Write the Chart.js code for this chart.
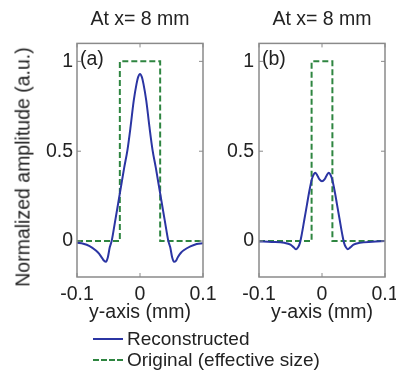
<!DOCTYPE html>
<html>
<head>
<meta charset="utf-8">
<script src="https://cdn.jsdelivr.net/npm/chart.js@4"></script>
<style>
  body { margin: 0; background: #fff; }
  #wrap { position: relative; width: 396px; height: 377px; overflow: hidden; font-family: "Liberation Sans", Arial, sans-serif; color: #222; }
  canvas { position: absolute; top: 0; }
  #ylab { position: absolute; left: 23px; top: 167px; transform: translate(-50%, -50%) rotate(-90deg); white-space: nowrap; font-size: 19.5px; }
  #legend { position: absolute; left: 93px; top: 328px; font-size: 19px; line-height: 21px; }
  .row { display: flex; align-items: center; white-space: nowrap; }
  .swatch { width: 30px; height: 0; margin-right: 4px; }
</style>
</head>
<body>
<div id="wrap">
  <canvas id="panelA" width="230" height="330" style="left:0"></canvas>
  <canvas id="panelB" width="196" height="330" style="left:200px"></canvas>
  <div id="ylab">Normalized amplitude (a.u.)</div>
  <div id="legend">
    <div class="row"><span class="swatch" style="border-top:2px solid #2b35a3"></span>Reconstructed</div>
    <div class="row"><span class="swatch" style="border-top:2px dashed #2e8540"></span>Original (effective size)</div>
  </div>
</div>
<script>
// данные
const xTicks = [-0.1, 0, 0.1];
const yTicks = [0, 0.5, 1];

// (a) восстановленный профиль
const posA = [-0.1, -0.09, -0.08, -0.07, -0.065, -0.06, -0.057, -0.054, -0.051, -0.048, -0.045, -0.04, -0.032, -0.025, -0.02, -0.015, -0.01, -0.0055, -0.003, 0,
              0.003, 0.0055, 0.01, 0.015, 0.02, 0.025, 0.032, 0.04, 0.045, 0.048, 0.051, 0.054, 0.057, 0.06, 0.065, 0.07, 0.08, 0.09, 0.1];
const reconA = [-0.01, -0.015, -0.028, -0.052, -0.07, -0.095, -0.11, -0.115, -0.09, -0.035, 0, 0.1, 0.265, 0.41, 0.505, 0.635, 0.78, 0.875, 0.912, 0.93,
                0.912, 0.875, 0.78, 0.635, 0.505, 0.41, 0.265, 0.1, 0, -0.035, -0.09, -0.115, -0.11, -0.09, -0.065, -0.05, -0.03, -0.016, -0.012];
// (a) исходный размер
const edgeA = [-0.1, -0.032, -0.032, 0.032, 0.032, 0.1];
const origA = [0, 0, 1, 1, 0, 0];

// (b) восстановленный профиль
const posB = [-0.1, -0.08, -0.06, -0.05, -0.045, -0.041, -0.038, -0.035, -0.032, -0.028, -0.024, -0.02, -0.016, -0.013, -0.0105, -0.007, -0.004, 0,
              0.004, 0.007, 0.0105, 0.013, 0.016, 0.02, 0.024, 0.028, 0.032, 0.035, 0.038, 0.041, 0.045, 0.05, 0.06, 0.08, 0.1];
const reconB = [-0.002, -0.005, -0.01, -0.02, -0.035, -0.046, -0.035, -0.01, 0.04, 0.12, 0.2, 0.28, 0.345, 0.372, 0.38, 0.362, 0.343, 0.333,
                0.343, 0.362, 0.38, 0.372, 0.345, 0.28, 0.2, 0.12, 0.04, -0.01, -0.035, -0.045, -0.035, -0.02, -0.01, -0.004, 0];
// (b) исходный размер
const edgeB = [-0.1, -0.0165, -0.0165, 0.0165, 0.0165, 0.1];
const origB = [0, 0, 1, 1, 0, 0];

const BLUE = '#2b35a3';
const GREEN = '#2e8540';
const TEXT = '#222';
const FONT = { family: '"Liberation Sans", Arial, sans-serif', size: 19.5 };

// рамка, внутренние засечки и буква панели
const framePlugin = {
    id: 'frame',
    afterDraw(chart) {
        const { ctx, chartArea: a, scales } = chart;
        ctx.save();
        ctx.strokeStyle = '#8a8a8a';
        ctx.lineWidth = 1.5;
        ctx.strokeRect(a.left, a.top, a.right - a.left, a.bottom - a.top);
        ctx.lineWidth = 1;
        ctx.beginPath();
        xTicks.forEach(v => {
            let px = scales.x.getPixelForValue(v);
            ctx.moveTo(px, a.bottom); ctx.lineTo(px, a.bottom - 4);
            ctx.moveTo(px, a.top); ctx.lineTo(px, a.top + 4);
        });
        yTicks.forEach(v => {
            let py = scales.y.getPixelForValue(v);
            ctx.moveTo(a.left, py); ctx.lineTo(a.left + 4, py);
            ctx.moveTo(a.right, py); ctx.lineTo(a.right - 4, py);
        });
        ctx.stroke();
        ctx.fillStyle = TEXT;
        ctx.font = '19.5px ' + FONT.family;
        ctx.textBaseline = 'top';
        ctx.textAlign = 'left';
        ctx.fillText(chart.options.plugins.frame.tag, a.left + 3, a.top + 6);
        ctx.restore();
    }
};

function makePanel(id, xs, recon, edges, orig, tag, yWidth, yPad, padRight) {
    let ctx = document.getElementById(id).getContext('2d');
    return new Chart(ctx, {
        type: 'line',
        data: {
            datasets: [{
                data: xs.map((x, i) => ({ x: x, y: recon[i] })),
                borderColor: BLUE,
                borderWidth: 2,
                pointRadius: 0,
                cubicInterpolationMode: 'monotone'
            }, {
                data: edges.map((x, i) => ({ x: x, y: orig[i] })),
                borderColor: GREEN,
                borderWidth: 2,
                borderDash: [6, 3],
                pointRadius: 0,
                tension: 0
            }]
        },
        options: {
            responsive: false,
            animation: false,
            events: [],
            layout: { padding: { left: 0, right: padRight, top: 0, bottom: 0 } },
            plugins: {
                legend: { display: false },
                tooltip: { enabled: false },
                title: {
                    display: true,
                    text: 'At x= 8 mm',
                    fullSize: false,
                    color: TEXT,
                    font: { family: FONT.family, size: 19.5, weight: 'normal' },
                    padding: { top: 8, bottom: 12 }
                },
                frame: { tag: tag }
            },
            scales: {
                x: {
                    type: 'linear',
                    min: -0.1,
                    max: 0.1,
                    afterBuildTicks: s => { s.ticks = xTicks.map(v => ({ value: v })); },
                    afterFit: s => { s.height = 53; s.paddingLeft = 0; s.paddingRight = 0; },
                    grid: { display: false, drawTicks: false },
                    border: { display: false },
                    ticks: { padding: 6, color: TEXT, font: FONT, maxRotation: 0, callback: v => String(v) },
                    title: { display: true, text: 'y-axis (mm)', color: TEXT, font: FONT, padding: { top: 0, bottom: 6 } }
                },
                y: {
                    type: 'linear',
                    min: -0.2,
                    max: 1.1,
                    afterBuildTicks: s => { s.ticks = yTicks.map(v => ({ value: v })); },
                    afterFit: s => { s.width = yWidth; s.paddingTop = 0; s.paddingBottom = 0; },
                    grid: { display: false, drawTicks: false },
                    border: { display: false },
                    ticks: { padding: yPad, color: TEXT, font: FONT, callback: v => String(v) }
                }
            }
        },
        plugins: [framePlugin]
    });
}

makePanel('panelA', posA, reconA, edgeA, origA, '(a)', 77, 4, 27);
makePanel('panelB', posB, reconB, edgeB, origB, '(b)', 59, 5, 11);
</script>
</body>
</html>
